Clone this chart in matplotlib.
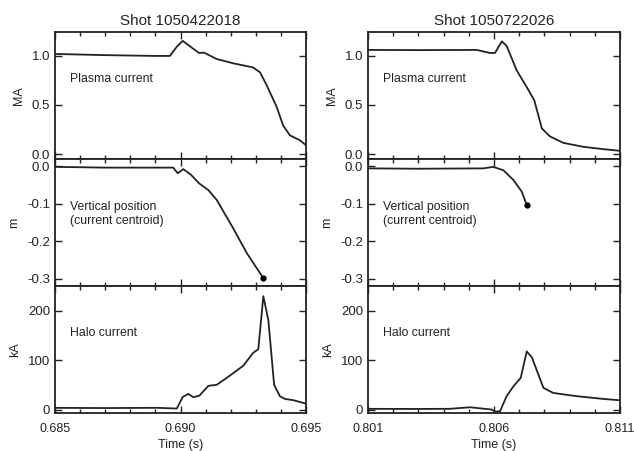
import matplotlib.pyplot as plt
from matplotlib.ticker import MultipleLocator, FixedLocator

# --- shot 1050422018 (left column) ---
t_ip_a = [0.6850, 0.6870, 0.6890, 0.68958, 0.68985, 0.69009, 0.69040, 0.69074, 0.69094,
          0.69144, 0.69210, 0.69289, 0.69317, 0.69343, 0.69383, 0.69409, 0.69436,
          0.69476, 0.69500]
ip_a = [1.017, 1.005, 0.997, 0.997, 1.09, 1.15, 1.09, 1.027, 1.03,
        0.966, 0.922, 0.88, 0.83, 0.70, 0.48, 0.29, 0.19, 0.14, 0.09]

t_z_a = [0.6850, 0.6870, 0.68971, 0.68989, 0.69011, 0.69040, 0.69074, 0.69111,
         0.69144, 0.69210, 0.69264, 0.69330]
z_a = [-0.002, -0.004, -0.004, -0.019, -0.008, -0.022, -0.046, -0.064,
       -0.090, -0.166, -0.232, -0.299]

t_h_a = [0.6850, 0.6870, 0.68905, 0.68985, 0.69009, 0.69031, 0.69051, 0.69075,
         0.69111, 0.69144, 0.69184, 0.69250, 0.69290, 0.69310, 0.69330, 0.69350,
         0.69373, 0.69396, 0.69416, 0.69449, 0.69500]
h_a = [3.4, 3.0, 3.5, 2.0, 25.5, 31.6, 25.0, 28.0,
       48.0, 50.0, 64.0, 88.6, 115.0, 122.0, 229.5, 181.0,
       50.0, 27.0, 21.5, 19.0, 12.0]

# --- shot 1050722026 (right column) ---
t_ip_b = [0.8010, 0.8030, 0.80531, 0.80584, 0.80604, 0.80631, 0.80650, 0.80690,
          0.80730, 0.80760, 0.80790, 0.80822, 0.80875, 0.80954, 0.81034, 0.81100]
ip_b = [1.058, 1.056, 1.058, 1.027, 1.027, 1.145, 1.10, 0.85,
        0.68, 0.545, 0.26, 0.18, 0.114, 0.074, 0.05, 0.033]

t_z_b = [0.8010, 0.8030, 0.80558, 0.80597, 0.80637, 0.80677, 0.80710, 0.80730]
z_b = [-0.006, -0.007, -0.006, -0.002, -0.011, -0.037, -0.068, -0.104]

t_h_b = [0.8010, 0.8030, 0.80425, 0.80505, 0.80591, 0.80604, 0.80624, 0.80650,
         0.80677, 0.80706, 0.80730, 0.80750, 0.80796, 0.80835, 0.80928, 0.81034,
         0.81100]
h_b = [1.4, 1.2, 1.5, 4.6, 0.0, -4.0, -3.5, 27.0,
       47.0, 64.0, 117.5, 106.0, 44.0, 33.6, 27.0, 21.5, 18.7]

shots = ["Shot 1050422018", "Shot 1050722026"]
xlims = [(0.685, 0.695), (0.801, 0.811)]
xticks = [[0.685, 0.690, 0.695], [0.801, 0.806, 0.811]]

ink = "#222222"
plt.rcParams["font.family"] = ["Liberation Sans", "DejaVu Sans"]
plt.rcParams["axes.linewidth"] = 1.3

fig = plt.figure(figsize=(6.34, 4.51), dpi=100)

lefts = [55 / 634, 368 / 634]
widths = [251 / 634, 252 / 634]
bottoms = [1 - 159 / 451, 1 - 286 / 451, 1 - 413 / 451]
height = 127 / 451

columns = [
    [(t_ip_a, ip_a), (t_z_a, z_a), (t_h_a, h_a)],
    [(t_ip_b, ip_b), (t_z_b, z_b), (t_h_b, h_b)],
]
ylims = [(-0.05, 1.24), (-0.32, 0.019), (-7, 250)]
yticks = [[0.0, 0.5, 1.0], [0.0, -0.1, -0.2, -0.3], [0, 100, 200]]
yfmt = ["{:.1f}", "{:.1f}", "{:.0f}"]
ylabels = ["MA", "m", "kA"]
labels = ["Plasma current", "Vertical position\n(current centroid)", "Halo current"]
label_y = [0.63, 0.567, 0.63]

for c in range(2):
    for r in range(3):
        ax = fig.add_axes([lefts[c], bottoms[r], widths[c], height])
        t, v = columns[c][r]
        ax.plot(t, v, color=ink, lw=1.3)
        if r == 1:
            ax.plot(t[-1], v[-1], "o", color="black", ms=3.5)
        ax.set_xlim(*xlims[c])
        ax.set_ylim(*ylims[r])
        ax.xaxis.set_major_locator(FixedLocator(xticks[c]))
        ax.xaxis.set_minor_locator(MultipleLocator(0.001))
        ax.yaxis.set_major_locator(FixedLocator(yticks[r]))
        ax.set_yticklabels([yfmt[r].format(y) for y in yticks[r]])
        ax.tick_params(which="both", direction="in", top=True, right=True,
                       color=ink, width=1.0, labelsize=9.5, labelcolor=ink)
        ax.tick_params(which="major", length=5)
        ax.tick_params(which="minor", length=3)
        ax.tick_params(axis="x", pad=7, labelsize=9)
        for s in ax.spines.values():
            s.set_color(ink)
        if r == 2:
            ax.set_xticklabels(["{:.3f}".format(x) for x in xticks[c]])
            ax.set_xlabel("Time (s)", fontsize=9, color=ink, labelpad=3)
        else:
            ax.set_xticklabels([])
        ax.set_ylabel(ylabels[r], fontsize=9, color=ink, labelpad=5)
        ax.text(0.06, label_y[r], labels[r], transform=ax.transAxes,
                fontsize=8.8, color=ink, va="center", ha="left", linespacing=1.3)
        if r == 0:
            ax.set_title(shots[c], fontsize=11, color=ink, pad=5)

fig.savefig("out.png", dpi=100)
